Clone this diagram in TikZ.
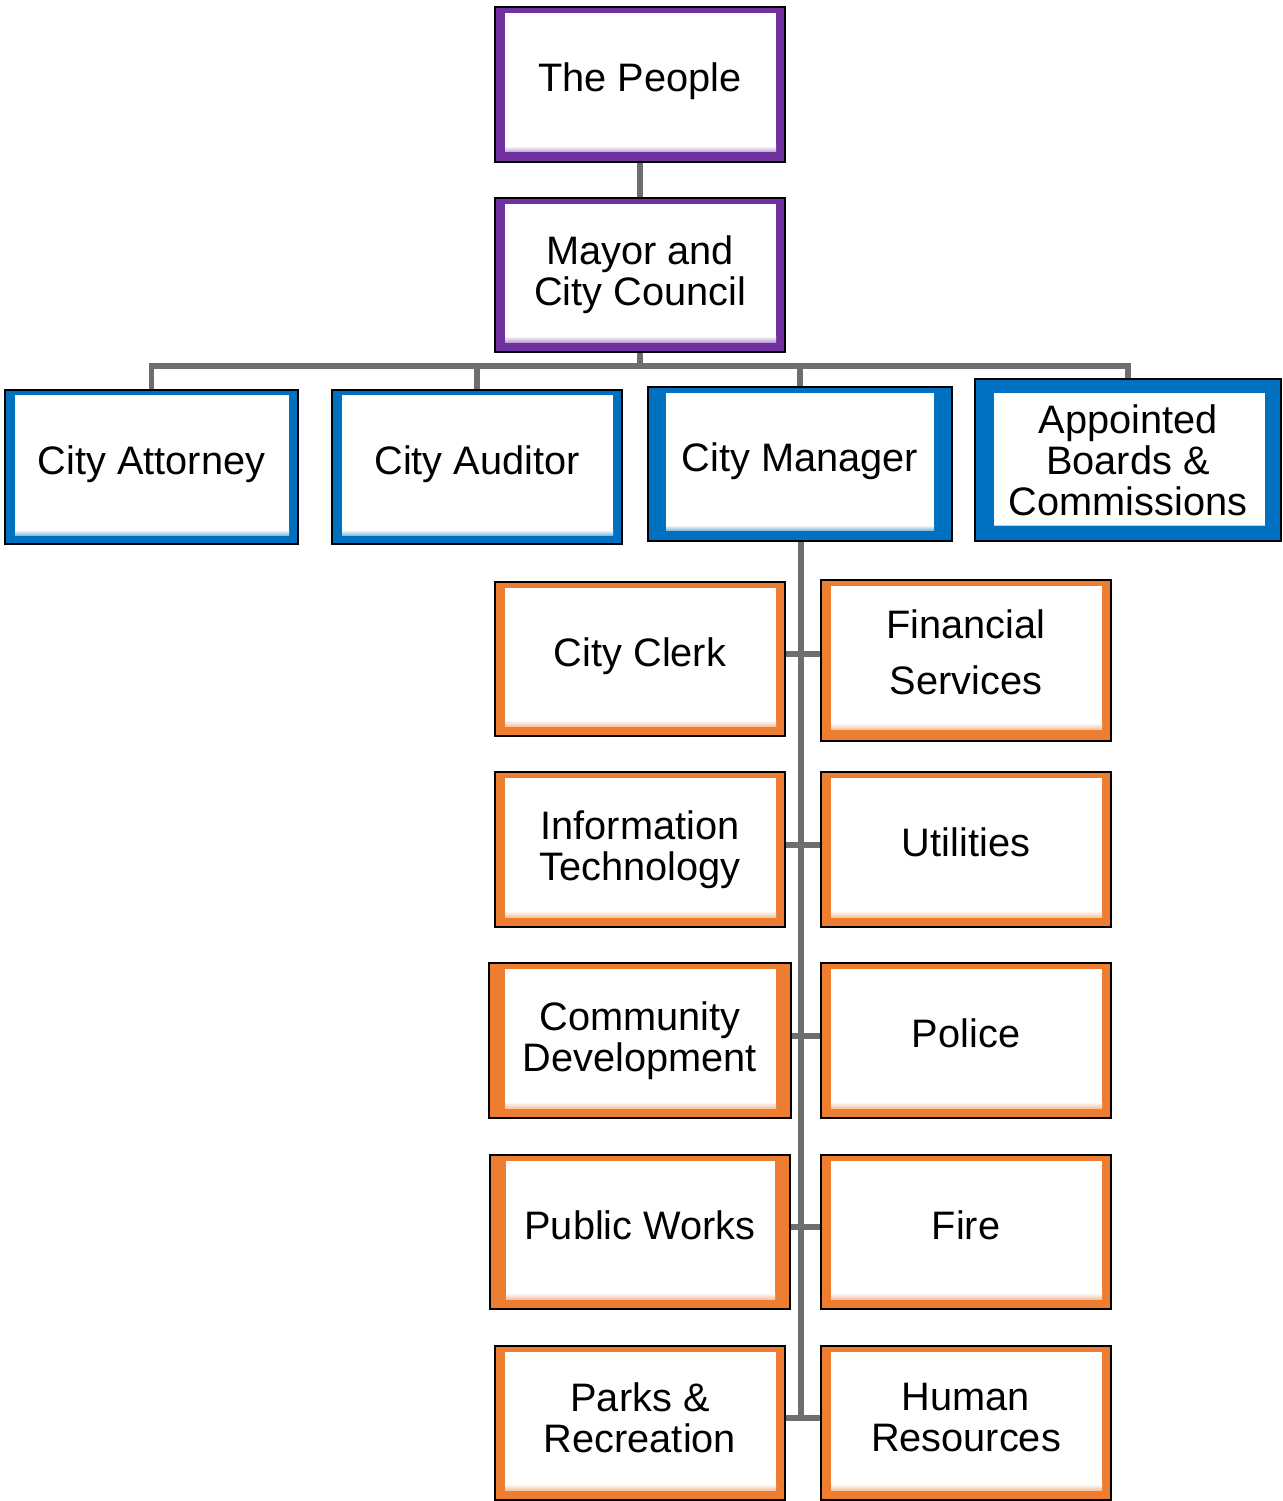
\documentclass[tikz,border=0pt]{standalone}
\usepackage{fontspec}
\setmainfont{Liberation Sans}
\definecolor{pur}{HTML}{7030A0}
\definecolor{blu}{HTML}{0070C0}
\definecolor{org}{HTML}{ED7D31}
\definecolor{cgray}{HTML}{6E6E6E}
\pgfdeclarelayer{bg}
\pgfsetlayers{bg,main}
\tikzset{
  insets/.code args={#1/#2/#3/#4/#5}{\def\inL{#1}\def\inT{#2}\def\inR{#3}\def\inB{#4}\def\glowH{#5}},
  boxcol/.code={\def\bcol{#1}\pgfkeysalso{fill=#1}},
  orgbox/.style={draw=black, line width=0.9pt, inner sep=0pt, align=center,
     insets=10/6/9/10/6,
     font=\fontsize{29.8pt}{30.7pt}\selectfont,
     path picture={
       \fill[white] ([shift={(\inL,\inT)}]path picture bounding box.north west) rectangle ([shift={(-\inR,-\inB)}]path picture bounding box.south east);
       \shade[top color=white, bottom color=\bcol!45!white] ([shift={(\inL,-\inB-\glowH)}]path picture bounding box.south west) rectangle ([shift={(-\inR,-\inB)}]path picture bounding box.south east);
     }},
  one/.style={text height=21pt, text depth=10.5pt},
  conn/.style={draw=cgray, line width=4.4pt}
}
\newcommand\obox[7]{%
  \node[orgbox, #6, minimum width={0.75pt*(#4-#2)}, minimum height={0.75pt*(#5-#3)}] (#1) at ({(#2+#4)/2},{(#3+#5)/2}) {#7};}
\begin{document}
\begin{tikzpicture}[x=0.75pt,y=-0.75pt]
\useasboundingbox (0,0) rectangle (1282,1501);
\obox{people}{495}{7}{785}{162}{boxcol=pur, one}{The People}
\obox{mayor}{495}{198}{785}{352}{boxcol=pur}{Mayor and\\City Council}
\obox{attorney}{5}{390}{298}{544}{boxcol=blu, insets=10/5/9/9/5, one}{City Attorney}
\obox{auditor}{332}{390}{622}{544}{boxcol=blu, insets=10/5/9/9/5, one}{City Auditor}
\obox{manager}{648}{387}{952}{541}{boxcol=blu, insets=18/6/18/11/5, one}{City Manager}
\obox{boards}{975}{379}{1281}{541}{boxcol=blu, insets=19/14/16/16/0.01}{Appointed\\Boards \&\\Commissions}
\obox{clerk}{495}{582}{785}{736}{boxcol=org, one}{City Clerk}
\obox{fin}{821}{580}{1111}{741}{boxcol=org, insets=10/6/9/12/6, font=\fontsize{29.8pt}{42pt}\selectfont, text depth=13pt}{Financial\\Services}
\obox{it}{495}{772}{785}{927}{boxcol=org}{Information\\Technology}
\obox{util}{821}{772}{1111}{927}{boxcol=org, one}{Utilities}
\obox{comm}{489}{963}{791}{1118}{boxcol=org, insets=16/6/15/10/6}{Community\\Development}
\obox{police}{821}{963}{1111}{1118}{boxcol=org, one}{Police}
\obox{pw}{490}{1155}{790}{1309}{boxcol=org, insets=16/6/15/10/6, one}{Public Works}
\obox{fire}{821}{1155}{1111}{1309}{boxcol=org, one}{Fire}
\obox{parks}{495}{1346}{785}{1500}{boxcol=org, text depth=8.4pt}{Parks \&\\Recreation}
\obox{hr}{821}{1346}{1111}{1500}{boxcol=org, text depth=8.4pt}{Human\\Resources}
\begin{pgfonlayer}{bg}
\draw[conn] (people.south) -- (mayor.north);
\coordinate (m1) at (640,366);
\draw[conn] (mayor.south) -- (m1);
\draw[conn] (attorney.north) |- (m1);
\draw[conn] (auditor.north) |- (m1);
\draw[conn] (manager.north) |- (m1);
\draw[conn] (boards.north) |- (m1);
\coordinate (r1) at (801,654);
\coordinate (r2) at (801,845);
\coordinate (r3) at (801,1036);
\coordinate (r4) at (801,1227);
\coordinate (r5) at (801,1418);
\draw[conn] (manager.south -| r1) -- (r5);
\draw[conn] (clerk.east |- r1) -- (fin.west |- r1);
\draw[conn] (it.east |- r2) -- (util.west |- r2);
\draw[conn] (comm.east |- r3) -- (police.west |- r3);
\draw[conn] (pw.east |- r4) -- (fire.west |- r4);
\draw[conn] (parks.east |- r5) -- (hr.west |- r5);
\end{pgfonlayer}
\end{tikzpicture}
\end{document}
